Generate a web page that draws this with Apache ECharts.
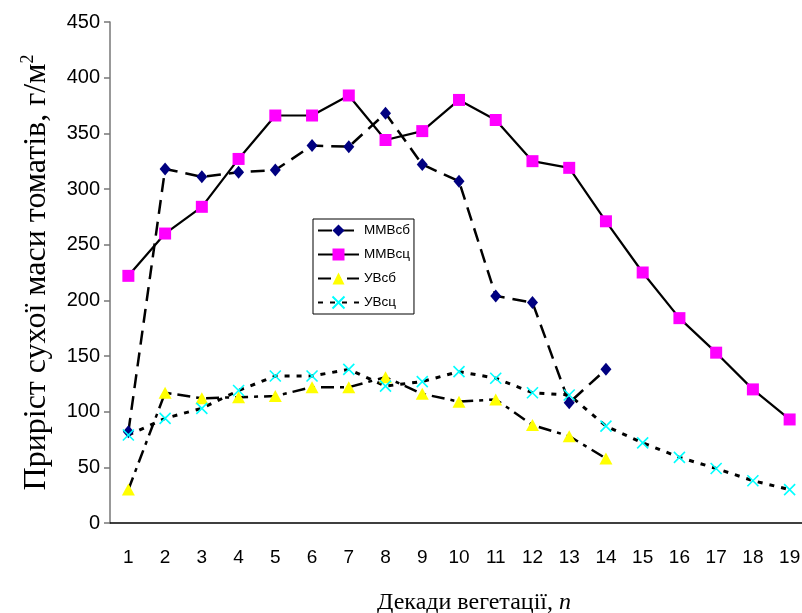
<!DOCTYPE html>
<html>
<head>
<meta charset="utf-8">
<script src="https://cdn.jsdelivr.net/npm/echarts@6/dist/echarts.min.js"></script>
<style>
html,body{margin:0;padding:0;background:#fff;}
#chart{width:802px;height:613px;}
</style>
</head>
<body>
<div id="chart"></div>
<script>
const categories = ['1','2','3','4','5','6','7','8','9','10','11','12','13','14','15','16','17','18','19'];
const mmvsb = [82, 318, 311, 315, 317, 339, 338, 368, 322, 307, 204, 198, 108, 138];
const mmvsc = [222, 260, 284, 327, 366, 366, 384, 344, 352, 380, 362, 325, 319, 271, 225, 184, 153, 120, 93];
const uvsb = [30, 117, 112, 113, 114, 122, 122, 131, 116, 109, 111, 88, 78, 58];
const uvsc = [79, 94, 103, 119, 132, 132, 138, 123, 127, 136, 130, 117, 115, 87, 72, 59, 49, 38, 30];
const yTicks = { min: 0, max: 450, interval: 50 };

const chart = echarts.init(document.getElementById('chart'), null, { renderer: 'canvas' });
const xPath = 'path://M0,0L10,10M10,0L0,10';
chart.setOption({
  animation: false,
  backgroundColor: '#ffffff',
  grid: { left: 110, right: -6, top: 22, bottom: 90, containLabel: false, outerBoundsMode: 'none' },
  legend: {
    orient: 'vertical',
    left: 313, top: 219,
    padding: [4, 4, 4, 4],
    itemWidth: 41, itemHeight: 15, itemGap: 9,
    borderColor: '#000', borderWidth: 1,
    backgroundColor: '#fff',
    textStyle: { fontFamily: 'Liberation Sans, Arial', fontSize: 13.5, color: '#000', lineHeight: 15 },
    data: ['ММВсб', 'ММВсц', 'УВсб', 'УВсц']
  },
  xAxis: {
    type: 'category',
    data: categories,
    boundaryGap: true,
    axisLine: { lineStyle: { color: '#000', width: 1.5 } },
    axisTick: { length: 6, lineStyle: { color: '#000', width: 1.5 } },
    axisLabel: { margin: 25, fontFamily: 'Liberation Sans, Arial', fontSize: 19, color: '#000' },
    name: 'Декади вегетації, {i|n}',
    nameLocation: 'middle',
    nameGap: 68,
    nameTextStyle: {
      fontFamily: 'Liberation Serif, Times New Roman', fontSize: 24, color: '#000',
      padding: [0, 0, 0, 30],
      rich: { i: { fontFamily: 'Liberation Serif, Times New Roman', fontSize: 24, fontStyle: 'italic', color: '#000' } }
    },
    splitLine: { show: false }
  },
  yAxis: {
    type: 'value',
    min: yTicks.min, max: yTicks.max, interval: yTicks.interval,
    axisLine: { show: true, lineStyle: { color: '#777', width: 1.5 } },
    axisTick: { show: true, length: 6, lineStyle: { color: '#777', width: 1.5 } },
    axisLabel: { margin: 10, fontFamily: 'Liberation Sans, Arial', fontSize: 20, color: '#000' },
    splitLine: { show: false },
    name: '{a|Приріст сухої маси томатів, г/м}{s|2}',
    nameLocation: 'middle',
    nameGap: 55,
    nameRotate: 90,
    nameTextStyle: {
      color: '#000',
      rich: {
        a: { fontFamily: 'Liberation Serif, Times New Roman', fontSize: 32, color: '#000', lineHeight: 36 },
        s: { fontFamily: 'Liberation Serif, Times New Roman', fontSize: 18, color: '#000', verticalAlign: 'top', lineHeight: 36, padding: [0, 0, 14, 0] }
      }
    }
  },
  series: [
    {
      name: 'ММВсб', type: 'line', data: mmvsb,
      symbol: 'diamond', symbolSize: [11, 13],
      itemStyle: { color: '#000080' },
      lineStyle: { color: '#000', width: 2.5, type: [14, 8] }
    },
    {
      name: 'ММВсц', type: 'line', data: mmvsc,
      symbol: 'rect', symbolSize: 12,
      itemStyle: { color: '#FF00FF' },
      lineStyle: { color: '#000', width: 2.2, type: 'solid' }
    },
    {
      name: 'УВсб', type: 'line', data: uvsb,
      symbol: 'triangle', symbolSize: [13, 12],
      itemStyle: { color: '#FFFF00' },
      lineStyle: { color: '#000', width: 2.5, type: [13, 6, 4, 6] }
    },
    {
      name: 'УВсц', type: 'line', data: uvsc,
      symbol: xPath, symbolSize: 11,
      itemStyle: { color: 'rgba(0,0,0,0)', borderColor: '#00FFFF', borderWidth: 1.6 },
      lineStyle: { color: '#000', width: 3, type: [5, 7] }
    }
  ]
});
</script>
</body>
</html>
